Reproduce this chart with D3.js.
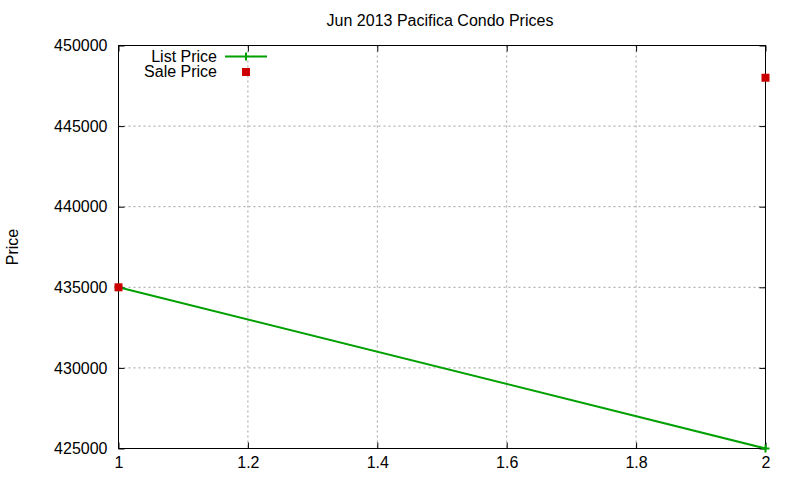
<!DOCTYPE html>
<html>
<head>
<meta charset="utf-8">
<script src="https://cdn.jsdelivr.net/npm/d3@7"></script>
<style>
  body { margin: 0; background: #fff; }
  text { font-family: "Liberation Sans", Arial, sans-serif; }
</style>
</head>
<body>
<svg id="chart" width="800" height="480"></svg>
<script>
let listX = [1, 2];
let listPrice = [435000, 425000];
let saleX = [1, 2];
let salePrice = [435000, 448000];
let xTicks = [1, 1.2, 1.4, 1.6, 1.8, 2];
let yTicks = [425000, 430000, 435000, 440000, 445000, 450000];

let plotLeft = 118.5, plotRight = 765.5, plotTop = 45.5, plotBottom = 448.5;

let x = d3.scaleLinear().domain([1, 2]).range([plotLeft, plotRight]);
let y = d3.scaleLinear().domain([425000, 450000]).range([plotBottom, plotTop]);

let svg = d3.select("#chart");

// grid
svg.append("g")
  .selectAll("line")
  .data(xTicks.slice(1, -1))
  .enter()
  .append("line")
  .attr("x1", (d) => x(d)).attr("x2", (d) => x(d))
  .attr("y1", plotTop).attr("y2", plotBottom)
  .attr("stroke", "#a0a0a0").attr("stroke-dasharray", "2,3");

svg.append("g")
  .selectAll("line")
  .data(yTicks.slice(1, -1))
  .enter()
  .append("line")
  .attr("x1", plotLeft).attr("x2", plotRight)
  .attr("y1", (d) => y(d)).attr("y2", (d) => y(d))
  .attr("stroke", "#a0a0a0").attr("stroke-dasharray", "2,3");

// axes, ticks pointing inward on all four sides
let tick = 6;
svg.append("g")
  .attr("transform", `translate(0,${plotBottom})`)
  .call(d3.axisBottom(x).tickValues(xTicks).tickSize(-tick).tickPadding(8).tickFormat(d3.format("")))
  .call((g) => g.select(".domain").remove());
svg.append("g")
  .attr("transform", `translate(0,${plotTop})`)
  .call(d3.axisTop(x).tickValues(xTicks).tickSize(-tick).tickFormat(""))
  .call((g) => g.select(".domain").remove());
svg.append("g")
  .attr("transform", `translate(${plotLeft},0)`)
  .call(d3.axisLeft(y).tickValues(yTicks).tickSize(-tick).tickPadding(11).tickFormat(d3.format("d")))
  .call((g) => g.select(".domain").remove());
svg.append("g")
  .attr("transform", `translate(${plotRight},0)`)
  .call(d3.axisRight(y).tickValues(yTicks).tickSize(-tick).tickFormat(""))
  .call((g) => g.select(".domain").remove());

svg.selectAll(".tick line").attr("stroke", "#000");
svg.selectAll(".tick text").attr("font-size", 16).attr("fill", "#000")
  .style("font-family", "'Liberation Sans', Arial, sans-serif");

svg.append("rect")
  .attr("x", plotLeft).attr("y", plotTop)
  .attr("width", plotRight - plotLeft).attr("height", plotBottom - plotTop)
  .attr("fill", "none").attr("stroke", "#000").attr("stroke-width", 1);

// list price line
let line = d3.line().x((d) => x(d[0])).y((d) => y(d[1]));
let listData = listX.map((d, i) => [d, listPrice[i]]);
svg.append("path")
  .datum(listData)
  .attr("d", line)
  .attr("fill", "none")
  .attr("stroke", "#00a000")
  .attr("stroke-width", 2);

svg.append("g")
  .selectAll("path")
  .data(listData)
  .enter()
  .append("path")
  .attr("d", (d) => `M${x(d[0]) - 4},${y(d[1])}h8M${x(d[0])},${y(d[1]) - 4}v8`)
  .attr("stroke", "#00a000")
  .attr("stroke-width", 2);

// sale price points
svg.append("g")
  .selectAll("rect")
  .data(saleX.map((d, i) => [d, salePrice[i]]))
  .enter()
  .append("rect")
  .attr("x", (d) => x(d[0]) - 4)
  .attr("y", (d) => y(d[1]) - 4)
  .attr("width", 8).attr("height", 8)
  .attr("fill", "#cc0000");

// title and labels
svg.append("text")
  .attr("x", 440).attr("y", 26)
  .attr("text-anchor", "middle")
  .attr("font-size", 16)
  .text("Jun 2013 Pacifica Condo Prices");

svg.append("text")
  .attr("transform", "translate(18,247) rotate(-90)")
  .attr("text-anchor", "middle")
  .attr("font-size", 16)
  .text("Price");

// legend
let legend = svg.append("g");
legend.append("text")
  .attr("x", 217).attr("y", 62)
  .attr("text-anchor", "end").attr("font-size", 16)
  .text("List Price");
legend.append("path")
  .attr("d", "M225,56.5h42M246,52.5v8")
  .attr("stroke", "#00a000").attr("stroke-width", 2);
legend.append("text")
  .attr("x", 217).attr("y", 77)
  .attr("text-anchor", "end").attr("font-size", 16)
  .text("Sale Price");
legend.append("rect")
  .attr("x", 242).attr("y", 68)
  .attr("width", 8).attr("height", 8)
  .attr("fill", "#cc0000");
</script>
</body>
</html>
